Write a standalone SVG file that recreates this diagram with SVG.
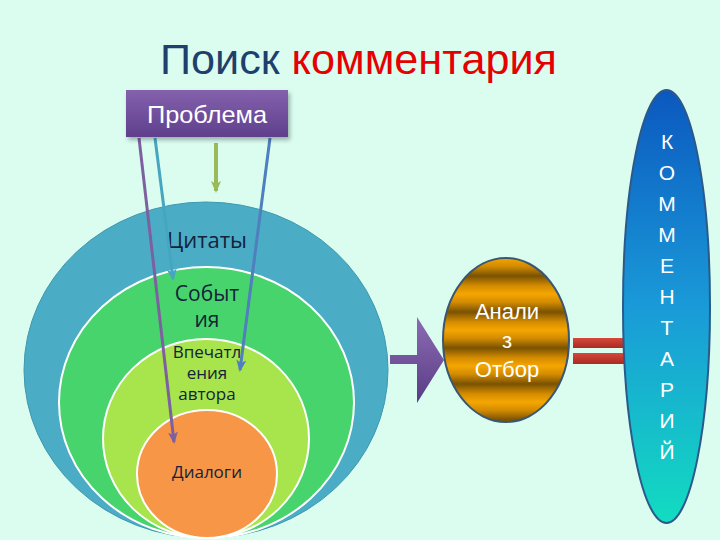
<svg xmlns="http://www.w3.org/2000/svg" width="720" height="540" viewBox="0 0 720 540">
<style>
.ring{stroke:#ffffff;stroke-width:2}
.ctext{font-family:"Open Sans","Noto Sans",sans-serif;fill:#13233a;text-anchor:middle}
.wtext{font-family:"Liberation Sans",Arial,sans-serif;fill:#ffffff;text-anchor:middle}
.conn{fill:none;stroke-width:3}
</style>
<defs>
<linearGradient id="gProb" x1="0" y1="0" x2="0" y2="1">
<stop offset="0" stop-color="#8461ad"/><stop offset="1" stop-color="#5f3f8c"/>
</linearGradient>
<linearGradient id="gBlock" x1="0" y1="0" x2="0" y2="1">
<stop offset="0" stop-color="#8b6cb4"/><stop offset="1" stop-color="#5a3c86"/>
</linearGradient>
<linearGradient id="gGold" gradientUnits="userSpaceOnUse" x1="0" y1="258" x2="0" y2="276" spreadMethod="reflect">
<stop offset="0" stop-color="#f4a600"/><stop offset="0.45" stop-color="#d48c00"/><stop offset="1" stop-color="#7a5200"/>
</linearGradient>
<linearGradient id="gCom" x1="0" y1="0" x2="0" y2="1">
<stop offset="0" stop-color="#0b58bf"/><stop offset="0.5" stop-color="#1a9ad8"/><stop offset="1" stop-color="#12dcc0"/>
</linearGradient>
<linearGradient id="gRed" x1="0" y1="0" x2="0" y2="1">
<stop offset="0" stop-color="#d8473a"/><stop offset="1" stop-color="#a82a22"/>
</linearGradient>
<filter id="sh" x="-10%" y="-10%" width="130%" height="140%">
<feDropShadow dx="2" dy="3" stdDeviation="2" flood-color="#000" flood-opacity="0.3"/>
</filter>
<marker id="mPur" viewBox="0 0 12 10" refX="10" refY="5" markerWidth="12" markerHeight="10" markerUnits="userSpaceOnUse" orient="auto"><path d="M0,0 L12,5 L0,10 L3,5 z" fill="#7d60a0"/></marker>
<marker id="mTeal" viewBox="0 0 12 10" refX="10" refY="5" markerWidth="12" markerHeight="10" markerUnits="userSpaceOnUse" orient="auto"><path d="M0,0 L12,5 L0,10 L3,5 z" fill="#46a6c2"/></marker>
<marker id="mBlue" viewBox="0 0 12 10" refX="10" refY="5" markerWidth="12" markerHeight="10" markerUnits="userSpaceOnUse" orient="auto"><path d="M0,0 L12,5 L0,10 L3,5 z" fill="#4f7fbd"/></marker>
<marker id="mGreen" viewBox="0 0 12 10" refX="10" refY="5" markerWidth="12" markerHeight="10" markerUnits="userSpaceOnUse" orient="auto"><path d="M0,0 L12,5 L0,10 L3,5 z" fill="#9bbb59"/></marker>
</defs>
<rect width="720" height="540" fill="#dafdf0"/>
<g id="title">
<text x="160" y="74" font-family="Liberation Sans,Arial,sans-serif" font-size="43" textLength="397" lengthAdjust="spacingAndGlyphs"><tspan fill="#1f3f6e">Поиск </tspan><tspan fill="#e60000">комментария</tspan></text>
</g>
<g id="circles">
<g id="citaty"><ellipse cx="206" cy="370" rx="182" ry="168" fill="#4bacc6" stroke="#3f98b0" stroke-width="1"/><text class="ctext" x="207" y="248" font-size="22">Цитаты</text></g>
<g id="sobytiya"><ellipse class="ring" cx="206.5" cy="402.5" rx="147.5" ry="135.5" fill="#48d46c"/><text class="ctext" x="207" y="301" font-size="21">Событ</text><text class="ctext" x="207" y="327" font-size="21">ия</text></g>
<g id="vpechatleniya"><ellipse class="ring" cx="206" cy="438.5" rx="103" ry="99.5" fill="#a8e44b"/><text class="ctext" x="207" y="358" font-size="17">Впечатл</text><text class="ctext" x="207" y="379" font-size="17">ения</text><text class="ctext" x="207" y="400" font-size="17">автора</text></g>
<g id="dialogi"><ellipse class="ring" cx="207" cy="474" rx="70" ry="64" fill="#f79646"/><text class="ctext" x="207" y="478" font-size="17">Диалоги</text></g>
</g>
<g id="connectors">
<line class="conn" x1="139" y1="138" x2="174" y2="442" stroke="#7d60a0" marker-end="url(#mPur)"/>
<line class="conn" x1="155" y1="138" x2="173" y2="279" stroke="#46a6c2" marker-end="url(#mTeal)"/>
<line class="conn" x1="270" y1="138" x2="240" y2="370" stroke="#4f7fbd" marker-end="url(#mBlue)"/>
<line x1="216" y1="143" x2="216" y2="191" stroke="#9bbb59" stroke-width="4" marker-end="url(#mGreen)"/>
<path id="blockArrow" d="M390,355 L417,355 L417,317 L444,360 L417,403 L417,364 L390,364 Z" fill="url(#gBlock)"/>
<rect x="573" y="338" width="56" height="10" fill="url(#gRed)"/>
<rect x="573" y="353" width="56" height="11" fill="url(#gRed)"/>
</g>
<g id="problema">
<rect x="126" y="90" width="162" height="47" fill="url(#gProb)" filter="url(#sh)"/>
<text class="wtext" x="207" y="123" font-size="24" textLength="120" lengthAdjust="spacingAndGlyphs">Проблема</text>
</g>
<g id="analiz">
<ellipse cx="506" cy="340" rx="63" ry="82" fill="url(#gGold)" stroke="#3b5670" stroke-width="2"/>
<text class="wtext" x="507" y="319" font-size="22">Анали</text>
<text class="wtext" x="507" y="348" font-size="22">з</text>
<text class="wtext" x="507" y="377" font-size="22">Отбор</text>
</g>
<g id="kommentariy">
<ellipse cx="666.5" cy="306.5" rx="43.5" ry="216.5" fill="url(#gCom)" stroke="#2b5a8a" stroke-width="2"/>
<text class="wtext" font-size="21">
<tspan x="667" y="149">К</tspan><tspan x="667" y="180">О</tspan><tspan x="667" y="211">М</tspan><tspan x="667" y="242">М</tspan><tspan x="667" y="273">Е</tspan><tspan x="667" y="304">Н</tspan><tspan x="667" y="335">Т</tspan><tspan x="667" y="366">А</tspan><tspan x="667" y="397">Р</tspan><tspan x="667" y="428">И</tspan><tspan x="667" y="459">Й</tspan>
</text>
</g>
</svg>
